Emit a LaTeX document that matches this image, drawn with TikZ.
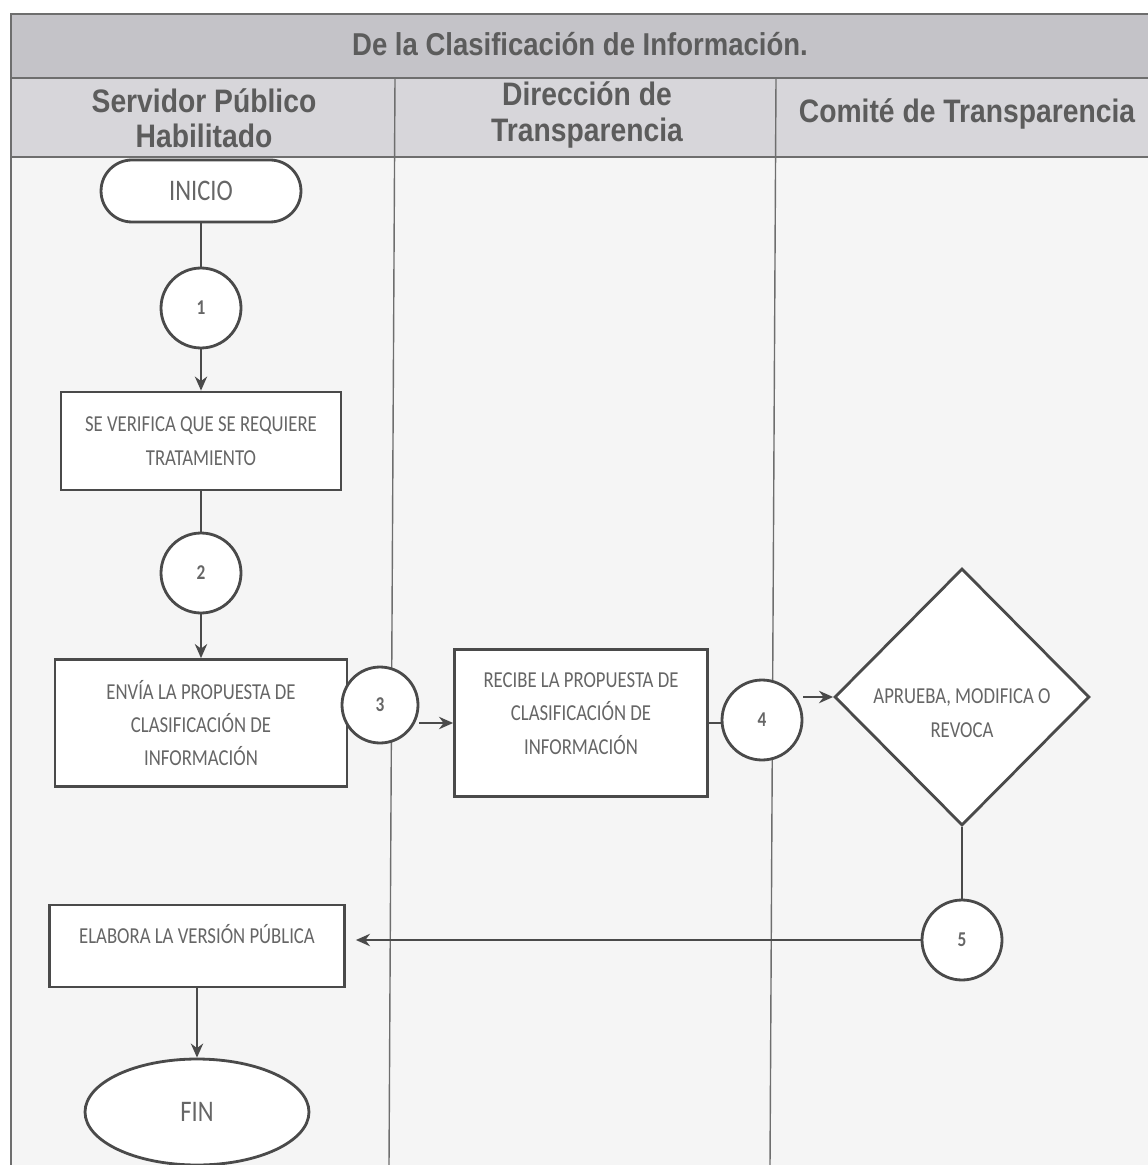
\documentclass[tikz,border=0pt]{standalone}
\usepackage{fontspec}
\usetikzlibrary{shapes.geometric,shapes.misc,arrows.meta}
\newfontfamily\hdrfont[FakeStretch=0.87]{Liberation Sans}
\newfontfamily\boxfont[FakeStretch=0.82]{Carlito}
\definecolor{linegray}{HTML}{4A4A4A}
\definecolor{textgray}{HTML}{666666}
\definecolor{headgray}{HTML}{5C5C5C}
\definecolor{titleband}{HTML}{C4C3C8}
\definecolor{headband}{HTML}{D7D6DA}
\definecolor{bodyband}{HTML}{F5F5F5}
\tikzset{
  flow/.style={draw=linegray, line width=1.6pt, fill=white, text=textgray,
    font=\boxfont\fontsize{13}{19}\selectfont, align=center, inner sep=2pt},
  stepbox/.style={flow, rectangle},
  conn/.style={flow, circle, minimum size=1.6cm, font=\boxfont\bfseries\fontsize{12}{14}\selectfont},
  terminal/.style={flow, rounded rectangle, font=\boxfont\fontsize{17}{19}\selectfont},
  endcap/.style={flow, ellipse, font=\boxfont\fontsize{17}{19}\selectfont},
  decision/.style={flow, diamond, inner sep=0pt},
  decisiontext/.style={text=textgray, font=\boxfont\fontsize{13}{19}\selectfont, align=center},
  link/.style={draw=linegray, line width=1.3pt},
  arrow/.style={link, -{Stealth[length=8pt,width=7pt]}},
  lane/.style={draw=linegray!80, line width=0.8pt},
  hdr/.style={text=headgray, font=\hdrfont\bfseries\fontsize{18.5}{20}\selectfont, align=center}
}
\begin{document}
\begin{tikzpicture}[x=0.02cm, y=-0.02cm]
  \useasboundingbox (0,0) rectangle (1148,1165);
  % page and bands
  \fill[white] (0,0) rectangle (1148,1165);
  \fill[bodyband] (11,157) rectangle (1148,1165);
  \fill[titleband] (11,14) rectangle (1148,78);
  \fill[headband] (11,78) rectangle (1148,157);
  \draw[lane] (1148,14) -- (11,14) -- (11,1165);
  \draw[lane] (11,78) -- (1148,78);
  \draw[lane] (11,157) -- (1148,157);
  \draw[lane] (395,78) -- (389,1165);
  \draw[lane] (776,78) -- (770,1165);

  % headings
  \node[hdr, font=\hdrfont\bfseries\fontsize{18}{20}\selectfont] (title) at (580,44) {De la Clasificación de Información.};
  \node[hdr] (lane1) at (204,118) {Servidor Público\\Habilitado};
  \node[hdr] (lane2) at (587,115) {Dirección de\\Transparencia};
  \node[hdr] (lane3) at (967,114) {Comité de Transparencia};

  % flow nodes
  \node[terminal, minimum width=4.14cm, minimum height=1.24cm] (inicio) at (201,191) {INICIO};
  \node[conn] (c1) at (201,308) {1};
  \node[stepbox, minimum width=5.6cm, minimum height=1.96cm] (verifica) at (201,441)
    {SE VERIFICA QUE SE REQUIERE\\TRATAMIENTO};
  \node[conn] (c2) at (201,573) {2};
  \node[stepbox, minimum width=5.84cm, minimum height=2.54cm] (envia) at (201,723)
    {ENVÍA LA PROPUESTA DE\\CLASIFICACIÓN DE\\INFORMACIÓN};
  \node[conn, minimum size=1.52cm] (c3) at (380,705) {3};
  \node[stepbox, minimum width=5.06cm, minimum height=2.94cm, text depth=11pt] (recibe) at (581,723)
    {RECIBE LA PROPUESTA DE\\CLASIFICACIÓN DE\\INFORMACIÓN};
  \node[conn] (c4) at (762,720) {4};
  \node[decision, minimum width=5.1cm, minimum height=5.14cm,
    label={[decisiontext, yshift=-0.32cm]center:APRUEBA, MODIFICA O\\REVOCA}] (aprueba) at (962,697) {};
  \node[conn] (c5) at (962,940) {5};
  \node[stepbox, minimum width=5.9cm, minimum height=1.64cm, text depth=14pt] (elabora) at (197,946)
    {ELABORA LA VERSIÓN PÚBLICA};
  \node[endcap, minimum width=4.48cm, minimum height=2.12cm] (fin) at (197,1112) {FIN};

  % connectors
  \draw[link] (inicio.south) -- (c1.north);
  \draw[arrow] (c1.south) -- (verifica.north);
  \draw[link] (verifica.south) -- (c2.north);
  \draw[arrow] (c2.south) -- (envia.north);
  \draw[arrow] (c3.east |- recibe.west) -- (recibe.west);
  \draw[link] (recibe.east) -- (c4.west |- recibe.east);
  \draw[arrow] (c4.east |- aprueba.west) -- (aprueba.west);
  \draw[link] (aprueba.south) -- (c5.north);
  \draw[arrow] (c5.west) -- ([xshift=0.2cm]elabora.east |- c5.west);
  \draw[arrow] (elabora.south) -- (fin.north);
\end{tikzpicture}
\end{document}
